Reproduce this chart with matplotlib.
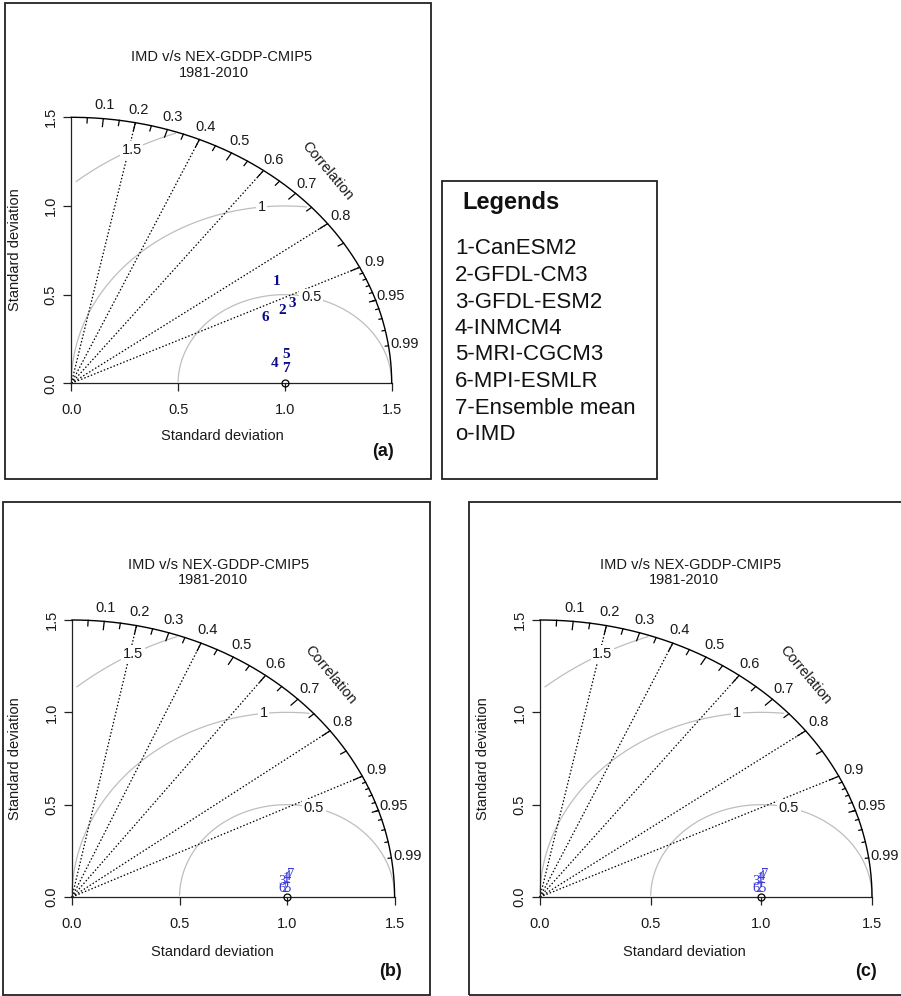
import numpy as np
import matplotlib.pyplot as plt
from matplotlib import font_manager
from matplotlib.patches import Rectangle

W, H = 901, 996

# model labels and their (normalised) statistics vs IMD
models = ["1", "2", "3", "4", "5", "6", "7"]
legend_items = ["1-CanESM2", "2-GFDL-CM3", "3-GFDL-ESM2", "4-INMCM4",
                "5-MRI-CGCM3", "6-MPI-ESMLR", "7-Ensemble mean", "o-IMD"]

# panel (a)
sd_a = [1.12, 1.07, 1.13, 0.96, 1.02, 0.98, 1.006]
cor_a = [0.858, 0.924, 0.917, 0.993, 0.987, 0.926, 0.9966]
# panel (b)
sd_b = [1.000, 0.991, 0.979, 1.006, 1.001, 0.976, 1.024]
cor_b = [0.995, 0.999, 0.9964, 0.994, 0.999, 0.9989, 0.9931]
# panel (c)
sd_c = [1.000, 0.991, 0.979, 1.006, 1.001, 0.976, 1.024]
cor_c = [0.995, 0.999, 0.9964, 0.994, 0.999, 0.9989, 0.9931]

ref_sd = 1.0
max_sd = 1.5
gammas = [0.5, 1.0, 1.5]
corr_lines = [0.2, 0.4, 0.6, 0.8, 0.9]
corr_labels = [0.1, 0.2, 0.3, 0.4, 0.5, 0.6, 0.7, 0.8, 0.9, 0.95, 0.99]
sd_ticks = [0.0, 0.5, 1.0, 1.5]

# plot text in R looks condensed, use the narrow face if we have it
try:
    font_manager.findfont(font_manager.FontProperties(family=["Liberation Sans Narrow"]),
                          fallback_to_default=False)
    PFONT, FS = "Liberation Sans Narrow", 11.5
except ValueError:
    PFONT, FS = "Liberation Sans", 10.5
plt.rcParams["font.family"] = ["Liberation Sans", "DejaVu Sans"]
TXT = "#1a1a1a"

fig = plt.figure(figsize=(W / 100, H / 100), dpi=100)


def fx(x):
    return x / W


def fy(y):
    return 1 - y / H


def taylor(px, sd, cor, num_style):
    x0, x1, y0, y1 = px
    ax = fig.add_axes([fx(x0), fy(y0), fx(x1) - fx(x0), fy(y1) - fy(y0)])
    ax.set_xlim(0, max_sd)
    ax.set_ylim(0, max_sd)
    ax.patch.set_visible(False)
    for s in ["top", "right"]:
        ax.spines[s].set_visible(False)
    for s in ["left", "bottom"]:
        ax.spines[s].set_bounds(0, max_sd)
        ax.spines[s].set_color("#222222")
        ax.spines[s].set_linewidth(0.9)
    ax.set_xticks(sd_ticks)
    ax.set_yticks(sd_ticks)
    ax.set_xticklabels([f"{v:.1f}" for v in sd_ticks], fontfamily=PFONT, fontsize=FS, color=TXT)
    ax.set_yticklabels([f"{v:.1f}" for v in sd_ticks], fontfamily=PFONT, fontsize=FS, color=TXT,
                       rotation=90, va="center")
    ax.tick_params(axis="both", direction="out", length=5.8, width=0.9, color="#222222")
    ax.tick_params(axis="x", pad=8.5)
    ax.tick_params(axis="y", pad=4)

    # centred RMS arcs around the reference (plotrix style)
    t = np.arange(0, np.pi, 0.03)
    label_idx = [44, 56, 69]
    for g, li in zip(gammas, label_idx):
        xc = np.cos(t) * g + ref_sd
        yc = np.sin(t) * g
        neg = np.where(xc < 0)[0]
        end = neg.min() - 1 if len(neg) else len(xc) - 1
        out = np.where(xc ** 2 + yc ** 2 > max_sd ** 2)[0]
        start = out.max() + 1 if len(out) else 0
        ax.plot(xc[start:end + 1], yc[start:end + 1], color="#bebebe", lw=0.9,
                clip_on=False, zorder=1)
        ax.text(xc[li], yc[li], f"{g:g}", ha="center", va="center", fontfamily=PFONT,
                fontsize=FS, color=TXT, zorder=4, clip_on=False,
                bbox=dict(boxstyle="square,pad=0.12", fc="white", ec="none"))

    # dotted correlation lines
    for c in corr_lines:
        a = np.arccos(c)
        ax.plot([0, max_sd * np.cos(a)], [0, max_sd * np.sin(a)], color="k", lw=0.9,
                ls=(0, (1.2, 1.6)), clip_on=False, zorder=2)

    # outer arc with ticks
    th = np.linspace(0, np.pi / 2, 300)
    ax.plot(max_sd * np.cos(th), max_sd * np.sin(th), color="k", lw=1.0, clip_on=False, zorder=3)
    for vals, frac in [(np.arange(0.1, 0.95, 0.1), 0.97), (np.arange(0.05, 1.0, 0.1), 0.98),
                       (np.arange(0.91, 0.995, 0.01), 0.99)]:
        for c in vals:
            a = np.arccos(c)
            ax.plot([max_sd * np.cos(a), frac * max_sd * np.cos(a)],
                    [max_sd * np.sin(a), frac * max_sd * np.sin(a)],
                    color="k", lw=0.9, clip_on=False, zorder=3)
    for c in corr_labels:
        a = np.arccos(c)
        ax.text(1.05 * max_sd * np.cos(a), 1.05 * max_sd * np.sin(a), f"{c:g}",
                ha="center", va="center", fontfamily=PFONT, fontsize=FS, color=TXT, clip_on=False)
    ax.text(0.8 * max_sd, 0.8 * max_sd, "Correlation", rotation=-50, ha="center", va="center",
            rotation_mode="anchor", fontfamily=PFONT, fontsize=FS, color=TXT, clip_on=False)

    # reference point and models
    ax.plot(ref_sd, 0, "o", mfc="none", mec="k", ms=5, mew=0.9, clip_on=False, zorder=5)
    for m, s, r in zip(models, sd, cor):
        ax.text(s * r, s * np.sqrt(1 - r ** 2), m, ha="center", va="center", clip_on=False,
                zorder=6, **num_style)
    return ax


bold_num = dict(fontfamily="Liberation Serif", fontweight="bold", fontsize=11, color="#0a0a8c")
thin_num = dict(fontfamily="Liberation Serif", fontsize=10.5, color="#3a3ad8")

panels = [
    ((71.3, 391.7, 383.3, 117.3), sd_a, cor_a, bold_num,
     (222, 57), (214, 73), (222, 436), (15, 250), (383, 451), "(a)"),
    ((72.0, 394.6, 897.0, 620.0), sd_b, cor_b, thin_num,
     (219, 565), (213, 580), (212, 952), (15, 759), (391, 971), "(b)"),
    ((540.0, 872.0, 897.0, 620.0), sd_c, cor_c, thin_num,
     (691, 565), (684, 580), (684, 952), (483, 759), (866, 971), "(c)"),
]

for px, sd, cor, style, t1, t2, xl, yl, let, letter in panels:
    taylor(px, sd, cor, style)
    fig.text(fx(t1[0]), fy(t1[1]), "IMD v/s NEX-GDDP-CMIP5", ha="center", va="center",
             fontfamily=PFONT, fontsize=FS, color=TXT)
    fig.text(fx(t2[0]), fy(t2[1]), "1981-2010", ha="center", va="center",
             fontfamily=PFONT, fontsize=FS, color=TXT)
    fig.text(fx(xl[0]), fy(xl[1]), "Standard deviation", ha="center", va="center",
             fontfamily=PFONT, fontsize=FS, color=TXT)
    fig.text(fx(yl[0]), fy(yl[1]), "Standard deviation", ha="center", va="center", rotation=90,
             fontfamily=PFONT, fontsize=FS, color=TXT)
    fig.text(fx(let[0]), fy(let[1]), letter, ha="center", va="center", fontsize=13,
             fontweight="bold", color="#111111")

# panel frames
for x0, y0, x1, y1 in [(5, 3, 431, 479), (442, 181, 657, 479), (3, 502, 430, 995),
                       (469, 502, 905, 995)]:
    fig.add_artist(Rectangle((fx(x0), fy(y1)), fx(x1) - fx(x0), fy(y0) - fy(y1),
                             transform=fig.transFigure, fill=False, ec="#222222", lw=1.3))

# legend box text
fig.text(fx(462), fy(203), "Legends", ha="left", va="center", fontsize=17, fontweight="bold",
         color="#111111")
for i, item in enumerate(legend_items):
    fig.text(fx(455), fy(249 + i * 26.5), item, ha="left", va="center", fontsize=16,
             color="#111111")

fig.savefig("out.png", dpi=100)
